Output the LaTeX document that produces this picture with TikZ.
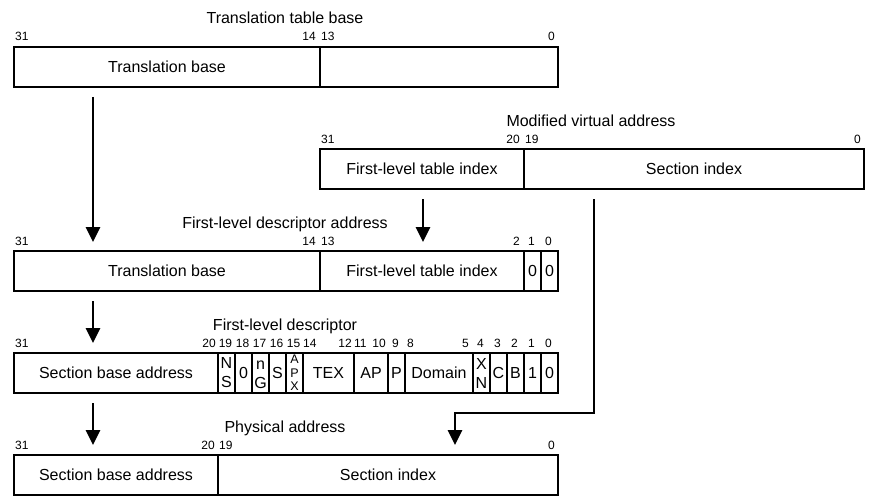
\documentclass[tikz,border=0pt]{standalone}
\usepackage{fontspec}
\setmainfont{Liberation Sans}
\usetikzlibrary{arrows.meta}
\newcommand\cellat[5]{\node[cellbox, minimum width={#3-#2}] (#1) at (#2,#4) {#5};}
\newcommand\stackat[6]{\node[stackbox, font=#6, minimum width={#3-#2}] (#1) at (#2,#4) {#5};}
\begin{document}
\begin{tikzpicture}[x=1pt,y=-1pt,
  cellbox/.style={draw, line width=2pt, inner sep=0pt, minimum height=40pt, anchor=north west,
    font=\fontsize{16}{18}\selectfont, text height=11.5pt, text depth=0pt},
  stackbox/.style={draw, line width=2pt, inner sep=0pt, minimum height=40pt, anchor=north west, align=center},
  bit/.style={font=\fontsize{12}{13}\selectfont, inner sep=0pt},
  ttl/.style={font=\fontsize{16}{18}\selectfont, inner sep=0pt, anchor=base},
  arr/.style={line width=2.8pt, -{Triangle[width=14pt,length=15pt]}}
]
\fill[white] (0,0) rectangle (876,503);
\useasboundingbox (0,0) rectangle (876,503);

% ---- Row 1: Translation table base
\node[ttl] (t1) at (285,24) {Translation table base};
\cellat{r1a}{13}{319}{46}{Translation base}
\cellat{r1b}{319}{557}{46}{}
\node[bit, anchor=base west] (b1a) at (15,41) {31};
\node[bit, anchor=base east] (b1b) at (316,41) {14};
\node[bit, anchor=base west] (b1c) at (321,41) {13};
\node[bit, anchor=base east] (b1d) at (555,41) {0};

% ---- Row 2: Modified virtual address
\node[ttl] (t2) at (591,126) {Modified virtual address};
\cellat{r2a}{319}{523}{148}{First-level table index}
\cellat{r2b}{523}{863}{148}{Section index}
\node[bit, anchor=base west] (b2a) at (321,143) {31};
\node[bit, anchor=base east] (b2b) at (520,143) {20};
\node[bit, anchor=base west] (b2c) at (525,143) {19};
\node[bit, anchor=base east] (b2d) at (861,143) {0};

% ---- Row 3: First-level descriptor address
\node[ttl] (t3) at (285,228) {First-level descriptor address};
\cellat{r3a}{13}{319}{250}{Translation base}
\cellat{r3b}{319}{523}{250}{First-level table index}
\cellat{r3c}{523}{540}{250}{0}
\cellat{r3d}{540}{557}{250}{0}
\node[bit, anchor=base west] (b3a) at (15,245) {31};
\node[bit, anchor=base east] (b3b) at (316,245) {14};
\node[bit, anchor=base west] (b3c) at (321,245) {13};
\node[bit, anchor=base east] (b3d) at (520,245) {2};
\node[bit, anchor=base] (b3e) at (531.5,245) {1};
\node[bit, anchor=base] (b3f) at (548.5,245) {0};

% ---- Row 4: First-level descriptor
\node[ttl] (t4) at (285,330) {First-level descriptor};
\cellat{r4a}{13}{217}{352}{Section base address}
\stackat{r4b}{217}{234}{352}{N\\S}{\fontsize{16}{19}\selectfont}
\cellat{r4c}{234}{251}{352}{0}
\stackat{r4d}{251}{268}{352}{\rule{0pt}{11.5pt}n\\G}{\fontsize{16}{19}\selectfont}
\cellat{r4e}{268}{285}{352}{S}
\stackat{r4f}{285}{302}{352}{A\\P\\X}{\fontsize{12.5}{13.5}\selectfont}
\cellat{r4g}{302}{353}{352}{TEX}
\cellat{r4h}{353}{387}{352}{AP}
\cellat{r4i}{387}{404}{352}{P}
\cellat{r4j}{404}{472}{352}{Domain}
\stackat{r4k}{472}{489}{352}{X\\N}{\fontsize{16}{19}\selectfont}
\cellat{r4l}{489}{506}{352}{C}
\cellat{r4m}{506}{523}{352}{B}
\cellat{r4n}{523}{540}{352}{1}
\cellat{r4o}{540}{557}{352}{0}
\node[bit, anchor=base west] (b4a) at (15,347) {31};
\node[bit, anchor=base east] (b4b) at (216,347) {20};
\node[bit, anchor=base] (b4c) at (225.5,347) {19};
\node[bit, anchor=base] (b4d) at (242.5,347) {18};
\node[bit, anchor=base] (b4e) at (259.5,347) {17};
\node[bit, anchor=base] (b4f) at (276.5,347) {16};
\node[bit, anchor=base] (b4g) at (293.5,347) {15};
\node[bit, anchor=base west] (b4h) at (303,347) {14};
\node[bit, anchor=base east] (b4i) at (352,347) {12};
\node[bit, anchor=base west] (b4j) at (354,347) {11};
\node[bit, anchor=base east] (b4k) at (386,347) {10};
\node[bit, anchor=base] (b4l) at (395.5,347) {9};
\node[bit, anchor=base west] (b4m) at (407,347) {8};
\node[bit, anchor=base east] (b4n) at (469,347) {5};
\node[bit, anchor=base] (b4o) at (480.5,347) {4};
\node[bit, anchor=base] (b4p) at (497.5,347) {3};
\node[bit, anchor=base] (b4q) at (514.5,347) {2};
\node[bit, anchor=base] (b4r) at (531.5,347) {1};
\node[bit, anchor=base] (b4s) at (548.5,347) {0};

% ---- Row 5: Physical address
\node[ttl] (t5) at (285,432) {Physical address};
\cellat{r5a}{13}{217}{454}{Section base address}
\cellat{r5b}{217}{557}{454}{Section index}
\node[bit, anchor=base west] (b5a) at (15,449) {31};
\node[bit, anchor=base east] (b5b) at (215,449) {20};
\node[bit, anchor=base west] (b5c) at (219,449) {19};
\node[bit, anchor=base east] (b5d) at (555,449) {0};

% ---- Connectors
\coordinate (a1s) at (93,97);   \coordinate (a1e) at (93,242);
\coordinate (a2s) at (423,199); \coordinate (a2e) at (423,242);
\coordinate (a3s) at (93,301);  \coordinate (a3e) at (93,343);
\coordinate (a4s) at (93,403);  \coordinate (a4e) at (93,445);
\coordinate (a5s) at (594,199); \coordinate (a5m) at (594,413);
\coordinate (a5n) at (455,413); \coordinate (a5e) at (455,445);
\draw[arr] (a1s) -- (a1e);
\draw[arr] (a2s) -- (a2e);
\draw[arr] (a3s) -- (a3e);
\draw[arr] (a4s) -- (a4e);
\draw[arr] (a5s) -- (a5m) -- (a5n) -- (a5e);
\end{tikzpicture}
\end{document}
